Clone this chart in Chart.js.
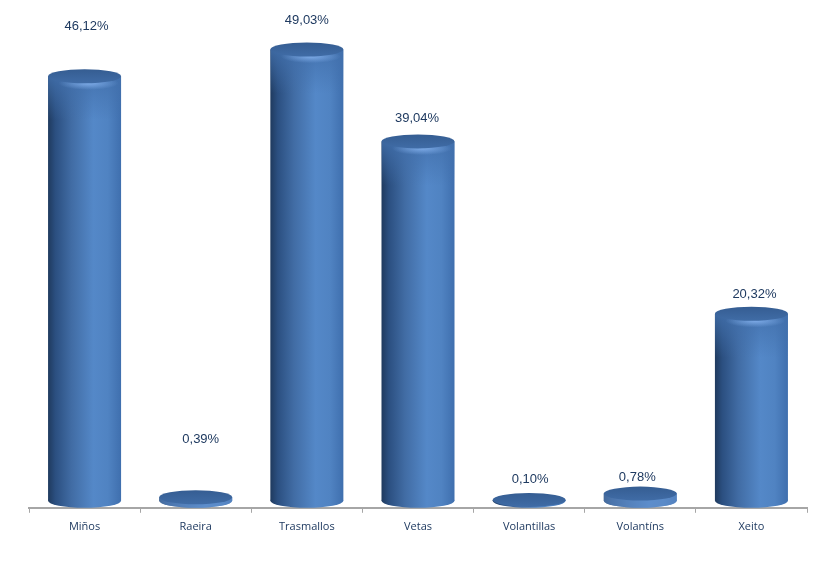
<!DOCTYPE html>
<html>
<head>
<meta charset="utf-8">
<style>html,body{margin:0;padding:0;background:#fff}#w{width:825px;height:584px}</style>
<script src="https://cdn.jsdelivr.net/npm/chart.js@4"></script>
</head>
<body>
<div id="w"><canvas id="c"></canvas></div>
<script>
const categories = ["Miños","Raeira","Trasmallos","Vetas","Volantillas","Volantíns","Xeito"];
const shares = [46.12,0.39,49.03,39.04,0.10,0.78,20.32];
const shareLabels = ["46,12%","0,39%","49,03%","39,04%","0,10%","0,78%","20,32%"];
const labelLift = [53,61,32,26,23,19,22];
const labelShift = [2,5,0,-1,1,-3,3];
const RY = 7;
const BAR_SHARE = 0.657;

function sideGradient(ctx, cx, w){
  const g = ctx.createLinearGradient(cx-w/2,0,cx+w/2,0);
  g.addColorStop(0, '#1f3a5e');
  g.addColorStop(0.1, '#2b4f80');
  g.addColorStop(0.32, '#416ca4');
  g.addColorStop(0.62, '#5488c8');
  g.addColorStop(0.82, '#5083c2');
  g.addColorStop(1, '#3f6fae');
  return g;
}

const cylinders = {
  id:'cylinders',
  afterDatasetsDraw(chart){
    const ctx = chart.ctx;
    chart.getDatasetMeta(0).data.forEach((el,i)=>{
      const w = el.width, rx = w/2, h = el.base - el.y;
      ctx.save();
      // rounded foot of the cylinder
      ctx.beginPath();
      ctx.ellipse(el.x, el.base, rx, RY, 0, 0, Math.PI*2);
      ctx.fillStyle = sideGradient(ctx, el.x, w);
      ctx.fill();
      // soft shading just below the lid
      if (h > 30){
        ctx.save();
        ctx.beginPath();
        ctx.rect(el.x-rx, el.y, w, 44);
        ctx.clip();
        const v = ctx.createLinearGradient(0, el.y, 0, el.y+44);
        v.addColorStop(0,'rgba(66,112,172,0.85)');
        v.addColorStop(1,'rgba(66,112,172,0)');
        ctx.fillStyle = v;
        ctx.fillRect(el.x-rx, el.y, w, 44);
        ctx.translate(el.x+4, el.y+RY);
        ctx.scale(1,0.22);
        const r = ctx.createRadialGradient(0,0,0,0,0,30);
        r.addColorStop(0,'rgba(135,180,240,0.85)');
        r.addColorStop(1,'rgba(135,180,240,0)');
        ctx.fillStyle = r;
        ctx.fillRect(-40,-40,80,80);
        ctx.restore();
      } else if (h > 3){
        ctx.beginPath();
        ctx.rect(el.x-rx, el.y, w, h);
        ctx.ellipse(el.x, el.base, rx, RY, 0, 0, Math.PI*2);
        ctx.fillStyle = 'rgba(100,145,205,0.55)';
        ctx.fill();
      }
      // lid
      ctx.beginPath();
      ctx.ellipse(el.x, el.y, rx, RY, 0, 0, Math.PI*2);
      const t = ctx.createLinearGradient(0, el.y-RY, 0, el.y+RY);
      t.addColorStop(0,'#355d92');
      t.addColorStop(1,'#406ca6');
      ctx.fillStyle = t;
      ctx.fill();
      // value label
      ctx.font = '13px "Liberation Sans"';
      ctx.fillStyle = '#1f3a60';
      ctx.textAlign = 'center';
      ctx.textBaseline = 'middle';
      ctx.fillText(shareLabels[i], el.x + labelShift[i], el.y - labelLift[i] + 3);
      ctx.restore();
    });
  }
};

new Chart(document.getElementById('c'),{
  type:'bar',
  data:{labels:categories,datasets:[{
    data:shares,
    barPercentage:BAR_SHARE,
    categoryPercentage:1,
    borderWidth:0,
    backgroundColor(c){
      const sx = c.chart.scales.x;
      if(!sx || c.dataIndex === undefined) return '#4a7ab8';
      const cx = sx.getPixelForTick(c.dataIndex);
      const w = sx.width/categories.length*BAR_SHARE;
      if(!isFinite(cx) || !isFinite(w)) return '#4a7ab8';
      return sideGradient(c.chart.ctx, cx, w);
    }
  }]},
  plugins:[cylinders],
  options:{
    responsive:true,
    maintainAspectRatio:false,
    animation:false,
    layout:{padding:{left:29,right:18,top:0,bottom:44}},
    plugins:{legend:{display:false},tooltip:{enabled:false}},
    scales:{
      y:{display:false,min:-0.76,max:54.4},
      x:{
        offset:true,
        border:{display:true,color:'#a6a6a6',width:2},
        grid:{display:true,drawOnChartArea:false,drawTicks:true,tickLength:5,color:'#a6a6a6',offset:true},
        ticks:{color:'#1f3a60',padding:7,maxRotation:0,autoSkip:false,font:{family:'"Open Sans"',size:11}}
      }
    }
  }
});
</script>
</body>
</html>
